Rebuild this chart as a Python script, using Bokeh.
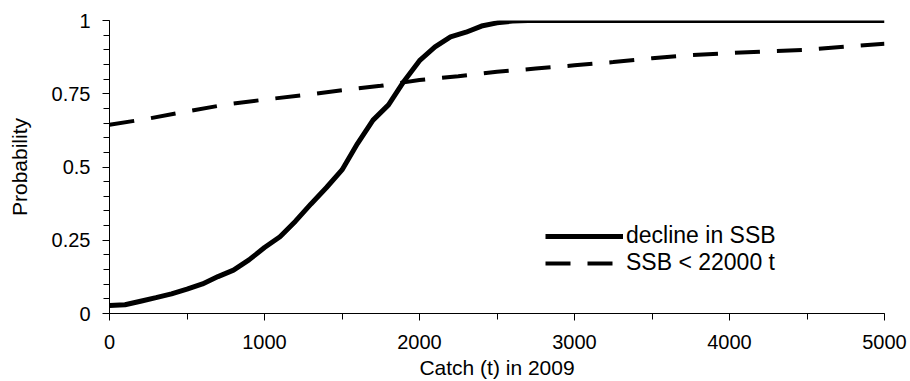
from bokeh.plotting import figure
from bokeh.models import Range1d, SingleIntervalTicker, FixedTicker, Legend, LegendItem, NumeralTickFormatter
from bokeh.embed import file_html
from bokeh.resources import INLINE

# Data
decline_x = [0, 100, 200, 300, 400, 500, 600, 700, 800, 900, 1000, 1100, 1200, 1300,
             1400, 1500, 1600, 1700, 1800, 1900, 2000, 2100, 2200, 2300, 2400, 2500,
             2600, 2700, 3000, 4000, 5000]
decline_y = [0.027, 0.030, 0.042, 0.054, 0.067, 0.083, 0.101, 0.126, 0.148, 0.183, 0.225,
             0.262, 0.315, 0.374, 0.430, 0.490, 0.580, 0.660, 0.712, 0.793, 0.863, 0.910,
             0.944, 0.960, 0.981, 0.992, 0.998, 1.0, 1.0, 1.0, 1.0]

ssb_x = [0, 250, 500, 750, 1000, 1250, 1500, 1750, 2000, 2250, 2500, 2750, 3000, 3250,
         3500, 3750, 4000, 4250, 4500, 4750, 5000]
ssb_y = [0.644, 0.665, 0.690, 0.713, 0.730, 0.745, 0.762, 0.777, 0.797, 0.810, 0.825,
         0.836, 0.847, 0.858, 0.871, 0.882, 0.889, 0.895, 0.900, 0.911, 0.921]

y_major_ticks = [0, 0.25, 0.5, 0.75, 1]
y_minor_ticks = [round(0.05 * i, 2) for i in range(21)]

series_labels = ["decline in SSB", "SSB < 22000 t"]
x_title = "Catch (t) in 2009"
y_title = "Probability"

FONT = "Liberation Sans"

p = figure(width=910, height=381, output_backend="svg", toolbar_location=None,
           x_range=Range1d(0, 5000), y_range=Range1d(0, 1),
           min_border_left=109, min_border_right=26, min_border_top=20, min_border_bottom=68)
p.outline_line_color = None
p.xgrid.visible = False
p.ygrid.visible = False
p.background_fill_color = "white"
p.border_fill_color = "white"

r1 = p.line(decline_x, decline_y, line_color="black", line_width=5)
r2 = p.line(ssb_x, ssb_y, line_color="black", line_width=4, line_dash="25 17")

xa = p.xaxis[0]
xa.ticker = SingleIntervalTicker(interval=1000, num_minor_ticks=2)
ya = p.yaxis[0]
ya.ticker = FixedTicker(ticks=y_major_ticks, minor_ticks=y_minor_ticks)
ya.formatter = NumeralTickFormatter(format="0.[00]")

for ax in (xa, ya):
    ax.axis_line_color = "black"
    ax.axis_line_width = 1
    ax.major_tick_line_color = "black"
    ax.minor_tick_line_color = "black"
    ax.major_tick_in = 0
    ax.major_tick_out = 7
    ax.minor_tick_in = 0
    ax.minor_tick_out = 6
    ax.major_label_text_font = FONT
    ax.major_label_text_font_size = "20px"
    ax.major_label_text_color = "black"
    ax.axis_label_text_font = FONT
    ax.axis_label_text_font_size = "21px"
    ax.axis_label_text_font_style = "normal"
    ax.axis_label_text_color = "black"

xa.axis_label = x_title
ya.axis_label = y_title
xa.major_label_standoff = 14
xa.axis_label_standoff = 4
ya.major_label_standoff = 12
ya.axis_label_standoff = 18

legend = Legend(items=[LegendItem(label=series_labels[0], renderers=[r1]),
                       LegendItem(label=series_labels[1], renderers=[r2])],
                location=(436, 37))
legend.border_line_color = None
legend.background_fill_alpha = 0
legend.padding = 0
legend.margin = 0
legend.spacing = 0
legend.glyph_width = 78
legend.glyph_height = 26
legend.label_height = 26
legend.label_standoff = 3
legend.label_text_font = FONT
legend.label_text_font_size = "23px"
legend.label_text_color = "black"
p.add_layout(legend)

open("out.html", "w").write(file_html(p, INLINE))
